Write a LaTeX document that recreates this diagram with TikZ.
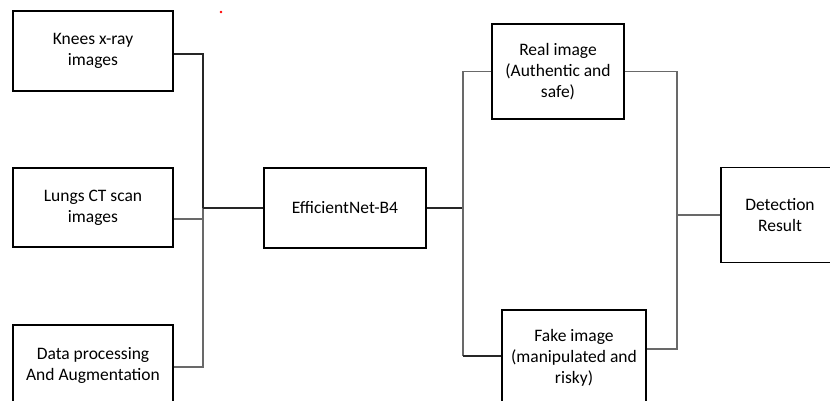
\documentclass[tikz,border=0pt]{standalone}
\usepackage{fontspec}
\setmainfont{Carlito}
\usepackage{tikz}
\usetikzlibrary{calc,positioning}
\definecolor{linkgray}{RGB}{105,105,105}
\tikzset{
  blockbox/.style={rectangle, draw=black, line width=1.7pt, fill=white,
                   align=center, inner sep=2pt,
                   font=\fontsize{17.5}{20.8}\selectfont},
  link/.style    ={line width=1.25pt, linkgray},
  linkdark/.style={line width=1.25pt, black!85},
}
\begin{document}
\begin{tikzpicture}[x=1pt, y=-1pt]
\useasboundingbox (0,0) rectangle (830,401);
\clip (0,0) rectangle (830,401);
% inputs
\node[blockbox, minimum width=160pt, minimum height=80pt] (knees)    at (93, 51)  {Knees x-ray\\images};
\node[blockbox, minimum width=160pt, minimum height=79pt] (lungs)    at (93, 207.5) {Lungs CT scan\\images};
\node[blockbox, minimum width=160pt, minimum height=81pt] (dataproc) at (93, 365.5) {Data processing\\And Augmentation};
% model
\node[blockbox, minimum width=162pt, minimum height=80pt] (effnet)   at (345, 208) {EfficientNet-B4};
% outputs
\node[blockbox, minimum width=132pt, minimum height=95pt] (real)     at (558, 71.5) {Real image\\(Authentic and\\safe)};
\node[blockbox, minimum width=144pt, minimum height=96pt] (fake)     at (574, 358) {Fake image\\(manipulated and\\risky)};
\node[blockbox, minimum width=118pt, minimum height=95pt] (result)   at (780, 215) {Detection\\Result};
% junctions
\coordinate (jL) at (203, 208);
\coordinate (jM) at (463, 208);
\coordinate (jR) at (677, 215);
\draw[linkdark] ([yshift=-3pt]knees.east) -| (jL);
\draw[link] (jL) |- ([yshift=-1.5pt]dataproc.east);
\draw[link] ([yshift=-11.5pt]lungs.east) -- (jL |- {{0,219}});
\draw[linkdark] (jL) -- (effnet.west);
\draw[linkdark] (effnet.east) -- (jM);
\draw[link] (real.west) -| (jM);
\draw[link] (jM) -- (jM |- {{0,356}});
\draw[linkdark] (jM |- {{0,356}}) -- ([yshift=2pt]fake.west);
\draw[link] (real.east) -| (jR);
\draw[link] (jR) |- ([yshift=9pt]fake.east);
\draw[link] (jR) -- (result.west);
% stray mark
\fill[red] (221,12) circle (1.4pt);
\end{tikzpicture}
\end{document}
